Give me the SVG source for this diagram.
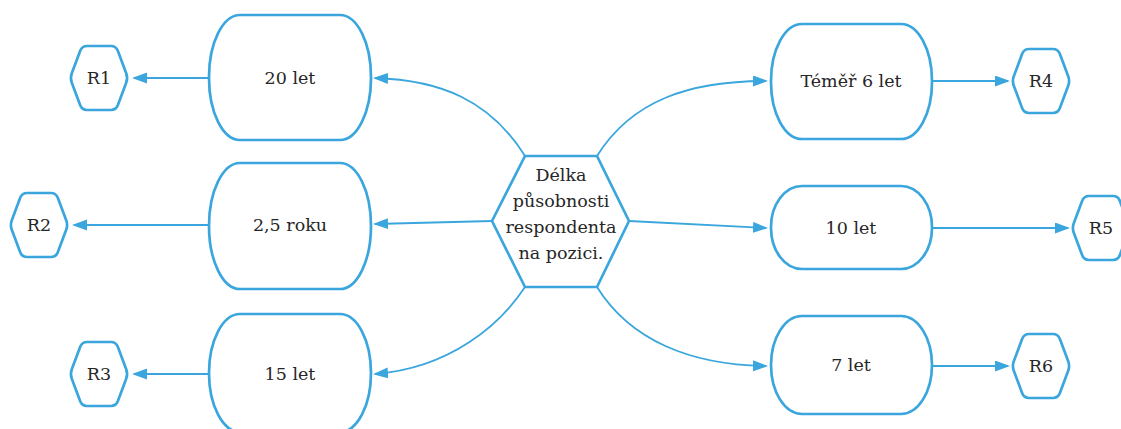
<svg xmlns="http://www.w3.org/2000/svg" width="1121" height="429" viewBox="0 0 1121 429">
<style>
.node{fill:#ffffff;stroke:#3aa6dd;stroke-width:2.7;stroke-linejoin:round}
.conn{fill:none;stroke:#3aa6dd;stroke-width:1.8}
.t{font-family:"DejaVu Serif","Liberation Serif",serif;font-size:17.5px;fill:#262626;text-anchor:middle}
</style>
<defs>
<marker id="arr" markerUnits="userSpaceOnUse" markerWidth="16" markerHeight="12" refX="13" refY="5.5" orient="auto">
<path d="M0,0 L15,5.5 L0,11 Z" fill="#3aa6dd"/>
</marker>
<path id="rhex" d="M-18.8,-27.3 Q-17,-32 -12,-32 L12,-32 Q17,-32 18.8,-27.3 L27.2,-4.7 Q29,0 27.2,4.7 L18.8,27.3 Q17,32 12,32 L-12,32 Q-17,32 -18.8,27.3 L-27.2,4.7 Q-29,0 -27.2,-4.7 Z"/>
</defs>
<g id="connectors">
<path class="conn" marker-end="url(#arr)" d="M525,156 C490,100 440,80 375,78"/>
<path class="conn" marker-end="url(#arr)" d="M492,221 L375,224"/>
<path class="conn" marker-end="url(#arr)" d="M525,287 C500,325 450,368 375,374"/>
<path class="conn" marker-end="url(#arr)" d="M597,156 C632,100 690,81 766,81"/>
<path class="conn" marker-end="url(#arr)" d="M629,221 L766,228"/>
<path class="conn" marker-end="url(#arr)" d="M597,287 C630,340 690,365 766,366"/>
<path class="conn" marker-end="url(#arr)" d="M209,78 L134,78"/>
<path class="conn" marker-end="url(#arr)" d="M209,225 L74,225"/>
<path class="conn" marker-end="url(#arr)" d="M209,374 L134,374"/>
<path class="conn" marker-end="url(#arr)" d="M932,81 L1008,81"/>
<path class="conn" marker-end="url(#arr)" d="M932,228 L1068,228"/>
<path class="conn" marker-end="url(#arr)" d="M932,366 L1008,366"/>
</g>
<g id="center">
<polygon class="node" points="492,221 525,156 597,156 629,221 597,287 525,287"/>
<text class="t" x="561" y="181">Délka</text>
<text class="t" x="561" y="207">působnosti</text>
<text class="t" x="561" y="233">respondenta</text>
<text class="t" x="561" y="259">na pozici.</text>
</g>
<g id="n20let">
<rect class="node" x="209" y="15" width="162" height="125" rx="31" ry="62"/>
<text class="t" x="290" y="84">20 let</text>
</g>
<g id="n25roku">
<rect class="node" x="209" y="163" width="162" height="126" rx="31" ry="63"/>
<text class="t" x="290" y="231">2,5 roku</text>
</g>
<g id="n15let">
<rect class="node" x="209" y="314" width="162" height="118" rx="31" ry="59"/>
<text class="t" x="290" y="380">15 let</text>
</g>
<g id="n6let">
<rect class="node" x="771" y="24" width="161" height="115" rx="31" ry="57"/>
<text class="t" x="851" y="87">Téměř 6 let</text>
</g>
<g id="n10let">
<rect class="node" x="771" y="186" width="161" height="83" rx="31" ry="41"/>
<text class="t" x="851" y="234">10 let</text>
</g>
<g id="n7let">
<rect class="node" x="771" y="316" width="161" height="98" rx="31" ry="49"/>
<text class="t" x="851" y="371">7 let</text>
</g>
<g id="R1">
<use href="#rhex" class="node" transform="translate(99,78)"/>
<text class="t" x="99" y="84">R1</text>
</g>
<g id="R2">
<use href="#rhex" class="node" transform="translate(39,225)"/>
<text class="t" x="39" y="231">R2</text>
</g>
<g id="R3">
<use href="#rhex" class="node" transform="translate(99,374)"/>
<text class="t" x="99" y="380">R3</text>
</g>
<g id="R4">
<use href="#rhex" class="node" transform="translate(1041,81)"/>
<text class="t" x="1041" y="87">R4</text>
</g>
<g id="R5">
<use href="#rhex" class="node" transform="translate(1101,228)"/>
<text class="t" x="1101" y="234">R5</text>
</g>
<g id="R6">
<use href="#rhex" class="node" transform="translate(1041,366)"/>
<text class="t" x="1041" y="372">R6</text>
</g>
</svg>
